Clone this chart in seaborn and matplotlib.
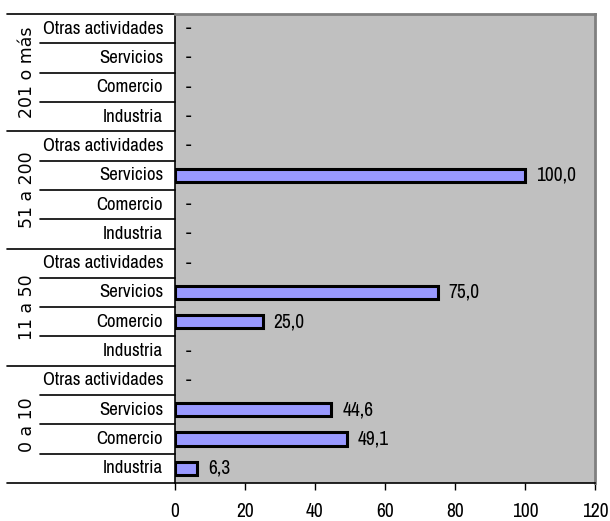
import matplotlib
matplotlib.use("Agg")
import matplotlib.pyplot as plt
import seaborn as sns
import pandas as pd

# --- DATA ---
groups = ["201 o más", "51 a 200", "11 a 50", "0 a 10"]
categories = ["Otras actividades", "Servicios", "Comercio", "Industria"]
values_201 = [0, 0, 0, 0]
values_51 = [0, 100.0, 0, 0]
values_11 = [0, 75.0, 25.0, 0]
values_0 = [0, 44.6, 49.1, 6.3]
xticks = [0, 20, 40, 60, 80, 100, 120]

rows = []
for g, vals in zip(groups, [values_201, values_51, values_11, values_0]):
    for c, v in zip(categories, vals):
        rows.append({"key": f"{g}|{c}", "grupo": g, "actividad": c, "valor": v})
df = pd.DataFrame(rows)

sns.set_style("white")
NARROW = ["Archivo Narrow", "DejaVu Sans"]
plt.rcParams["font.family"] = NARROW
plt.rcParams["text.color"] = "black"
plt.rcParams["xtick.color"] = "black"

fig = plt.figure(figsize=(6.1, 5.21), dpi=100)
ax = fig.add_axes([175 / 610, 38 / 521, 420 / 610, 469 / 521])
ax.set_facecolor("#C0C0C0")

sns.barplot(data=df, x="valor", y="key", orient="h", color="#9999FF",
            saturation=1, edgecolor="black", linewidth=2.2, width=0.45, ax=ax)
# barras en cero no se dibujan (solo el guion)
for p in ax.patches:
    if p.get_width() == 0:
        p.set_visible(False)

ax.set_xlim(0, 120)
ax.set_ylim(len(df) - 0.5, -0.5)
ax.set_xticks(xticks)
ax.set_xticklabels([str(t) for t in xticks], fontsize=14, family=NARROW)
ax.tick_params(axis="x", direction="out", length=5, width=1, color="black", pad=9, bottom=True)
ax.set_yticks([])
ax.set_xlabel("")
ax.set_ylabel("")

for side in ["top", "right"]:
    ax.spines[side].set_color("#808080")
    ax.spines[side].set_linewidth(2)
for side in ["left", "bottom"]:
    ax.spines[side].set_color("black")
    ax.spines[side].set_linewidth(1.2)

# etiquetas de valor
for i, v in enumerate(df["valor"]):
    txt = "-" if v == 0 else f"{v:.1f}".replace(".", ",")
    ax.annotate(txt, (v, i), xytext=(8, 0), textcoords="offset points",
                va="center", ha="left", fontsize=14, family=NARROW)

# etiquetas de actividad y separadores
tr = ax.get_yaxis_transform()
for i, c in enumerate(df["actividad"]):
    ax.text(-0.028, i, c, transform=tr, ha="right", va="center", fontsize=13.5, family=NARROW)

n = len(df)
for k in range(-1, n):
    b = k + 0.5
    if k == -1 or k == n - 1 or (k + 1) % 4 == 0:
        x0 = -0.4
    else:
        x0 = -0.3214
    ax.plot([x0, 0], [b, b], color="black", lw=1.2, transform=tr, clip_on=False)

for gi, g in enumerate(groups):
    ax.text(-0.352, gi * 4 + 1.5, g, transform=tr, rotation=90, ha="center", va="center",
            fontsize=12.5, family=["DejaVu Sans"])

fig.savefig("out.png", dpi=100)
